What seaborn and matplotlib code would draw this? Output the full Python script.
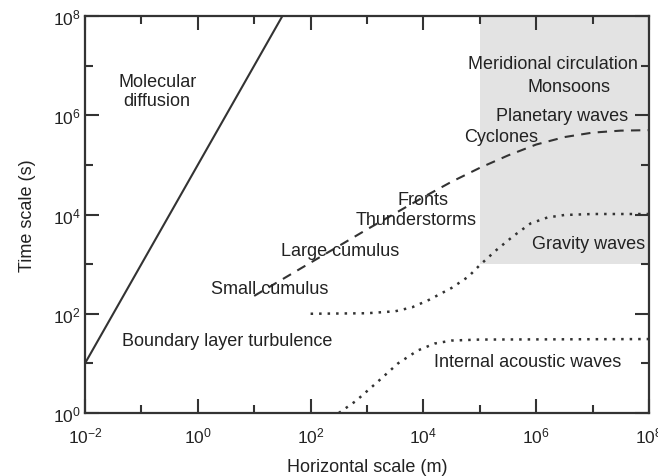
"""plot.py - characteristic time and horizontal scales of atmospheric motions"""
import numpy as np
import pandas as pd
import matplotlib
matplotlib.use("Agg")
import matplotlib.pyplot as plt
import seaborn as sns

# molecular diffusion (t ~ L^2 / D)
diff_x = [1e-2, 10 ** 1.5]
diff_y = [1e1, 1e8]

# weather systems (dashed) in log10 units
dash_logx = [1.0, 2.0, 3.0, 4.0, 4.5, 5.0, 5.5, 6.0, 6.5, 7.0, 7.5, 8.0]
dash_logy = [2.36, 3.03, 3.70, 4.35, 4.66, 4.94, 5.19, 5.41, 5.56, 5.65, 5.69, 5.70]

# gravity waves (dotted)
grav_logx = [2.0, 3.0, 3.5, 3.8, 4.1, 4.5, 4.8, 5.0, 5.3, 5.6, 5.9, 6.2, 6.5, 7.0, 8.0]
grav_logy = [2.0, 2.01, 2.05, 2.13, 2.28, 2.52, 2.75, 2.98, 3.29, 3.57, 3.82, 3.94, 3.99, 4.01, 4.01]

# internal acoustic waves (dotted)
acou_logx = [2.5, 2.8, 3.2, 3.55, 3.9, 4.2, 4.5, 5.0, 8.0]
acou_logy = [0.0, 0.24, 0.64, 1.0, 1.26, 1.40, 1.46, 1.48, 1.49]

# shaded synoptic / planetary region
shade_x = [1e5, 1e8]
shade_y = [1e3, 1e8]

labels = ["Molecular\ndiffusion", "Meridional circulation", "Monsoons",
          "Planetary waves", "Cyclones", "Fronts", "Thunderstorms",
          "Large cumulus", "Small cumulus", "Boundary layer turbulence",
          "Gravity waves", "Internal acoustic waves"]

major_ticks = [1e-2, 1e0, 1e2, 1e4, 1e6, 1e8]
major_labels = ["$10^{-2}$", "$10^{0}$", "$10^{2}$", "$10^{4}$", "$10^{6}$", "$10^{8}$"]
minor_ticks = [1e-1, 1e1, 1e3, 1e5, 1e7]
ymajor_ticks = [1e0, 1e2, 1e4, 1e6, 1e8]
ymajor_labels = ["$10^{0}$", "$10^{2}$", "$10^{4}$", "$10^{6}$", "$10^{8}$"]
yminor_ticks = [1e1, 1e3, 1e5, 1e7]

sns.set_style("ticks")
plt.rcParams["font.family"] = ["Liberation Sans", "DejaVu Sans"]
plt.rcParams["mathtext.fontset"] = "custom"
plt.rcParams["mathtext.rm"] = "Liberation Sans"
plt.rcParams["mathtext.it"] = "Liberation Sans:italic"

ink = "#222222"
line_col = "#333333"

fig = plt.figure(figsize=(6.58, 4.77), dpi=100)
ax = fig.add_axes([85 / 658, 63 / 477, 564 / 658, 397 / 477])
ax.set_xscale("log")
ax.set_yscale("log")

ax.fill_between(shade_x, shade_y[0], shade_y[1], color="#e3e3e3", lw=0, zorder=0)

sns.lineplot(x=diff_x, y=diff_y, ax=ax, color=line_col, lw=1.5, sort=False)
sns.lineplot(x=10 ** np.array(dash_logx), y=10 ** np.array(dash_logy), ax=ax,
             color=line_col, lw=1.5, sort=False, linestyle=(0, (4.5, 3.5)))
sns.lineplot(x=10 ** np.array(grav_logx), y=10 ** np.array(grav_logy), ax=ax,
             color=line_col, lw=1.8, sort=False, linestyle=(0, (1, 2.4)))
sns.lineplot(x=10 ** np.array(acou_logx), y=10 ** np.array(acou_logy), ax=ax,
             color=line_col, lw=1.8, sort=False, linestyle=(0, (1, 2.4)))

# label positions in log10 units (x, y)
label_pos = [(-0.72, 6.49), (6.30, 7.04), (6.58, 6.57), (6.46, 5.99),
             (5.38, 5.58), (3.99, 4.31), (3.87, 3.89), (2.52, 3.27),
             (1.28, 2.50), (0.52, 1.47), (6.92, 3.41), (5.84, 1.03)]
for txt, (lx, ly) in zip(labels, label_pos):
    ax.text(10 ** lx, 10 ** ly, txt, ha="center", va="center", fontsize=13,
            color=ink, linespacing=1.1)

ax.set_xlim(1e-2, 1e8)
ax.set_ylim(1e0, 1e8)
ax.set_xticks(major_ticks)
ax.set_xticklabels(major_labels)
ax.set_xticks(minor_ticks, minor=True)
ax.set_xticklabels([], minor=True)
ax.set_yticks(ymajor_ticks)
ax.set_yticklabels(ymajor_labels)
ax.set_yticks(yminor_ticks, minor=True)
ax.set_yticklabels([], minor=True)

ax.tick_params(which="both", direction="in", top=True, right=True,
               color=line_col, width=1.5, labelsize=12.5, labelcolor=ink)
ax.tick_params(which="major", length=10)
ax.tick_params(which="minor", length=6)
ax.tick_params(axis="x", pad=9)
ax.tick_params(axis="y", pad=3)
for sp in ax.spines.values():
    sp.set_color(line_col)
    sp.set_linewidth(1.6)
    sp.set_visible(True)

ax.set_xlabel("Horizontal scale (m)", fontsize=13, color=ink, labelpad=9)
ax.set_ylabel("Time scale (s)", fontsize=13, color=ink, labelpad=12)

fig.savefig("out.png", dpi=100)
plt.close(fig)
